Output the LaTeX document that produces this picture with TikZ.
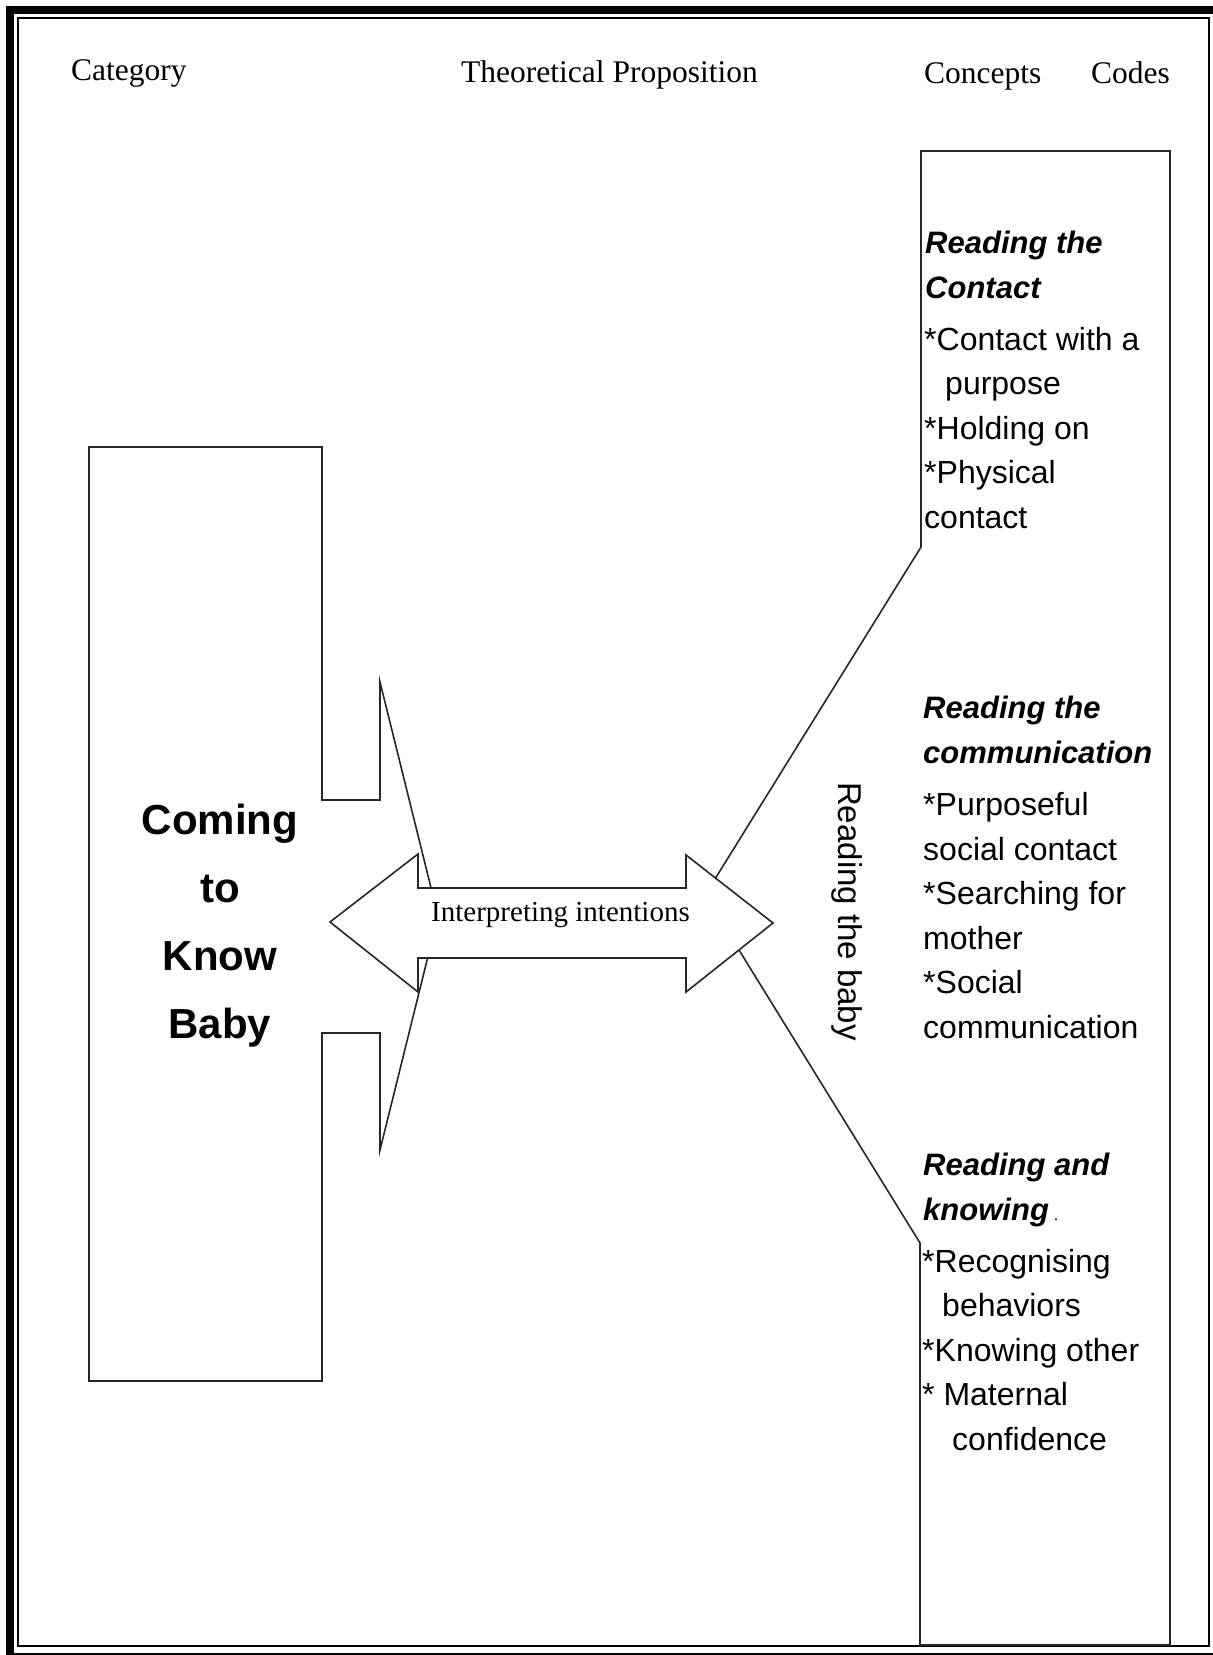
\documentclass[tikz,border=0pt]{standalone}
\usepackage{fontspec}
\setmainfont{Liberation Serif}
\newfontfamily\handfont{Liberation Sans}

\begin{document}
\begin{tikzpicture}[
    x=1pt, y=-1pt,
    outline/.style = {draw=black!85, line width=1.6pt, fill=white},
    header/.style  = {font=\fontsize{31.5}{38}\selectfont, inner sep=0pt, anchor=base west},
    concept/.style = {font=\handfont\bfseries\itshape\fontsize{31}{44.5}\selectfont,
                      align=left, inner sep=0pt, anchor=base west},
    code/.style    = {font=\handfont\fontsize{32}{44.5}\selectfont,
                      align=left, inner sep=0pt, anchor=base west}
]

%% Page and frame
\useasboundingbox (0,0) rectangle (1213,1655);
\draw[line width=8pt]   (10,10) rectangle (1217,1657);
\draw[line width=1.4pt] (18,18) rectangle (1209,1646);

%% Column headers
\node[header]              (cat)  at (71,80)      {Category};
\node[header, anchor=base] (prop) at (609.5,82.5) {Theoretical Proposition};
\node[header]              (con)  at (924,83)     {Concepts};
\node[header]              (cod)  at (1091,83)    {Codes};

%% Category callout
\draw[outline] (89,447) -- (322,447) -- (322,800) -- (380,800) -- (380,682)
    -- (438,916) -- (380,1150) -- (380,1033) -- (322,1033) -- (322,1381)
    -- (89,1381) -- cycle;
% multi-line nodes sit on their last line
\node[font=\handfont\bfseries\fontsize{42}{68}\selectfont, align=center,
      inner sep=0pt, anchor=base] (know) at (220,1038) {Coming\\to\\Know\\Baby};

%% Concepts column callout
\draw[outline] (921,151) -- (1170,151) -- (1170,1645) -- (920,1645)
    -- (920,1243) -- (705,895) -- (921,547) -- cycle;

%% Double arrow
\draw[outline] (330,922) -- (418,854) -- (418,888) -- (686,888) -- (686,855)
    -- (773,923) -- (686,992) -- (686,958) -- (418,958) -- (418,992) -- cycle;
\node[font=\fontsize{29}{34}\selectfont, inner sep=0pt, anchor=base]
    (intent) at (560.5,921.7) {Interpreting intentions};

\node[font=\handfont\fontsize{33}{40}\selectfont, rotate=-90, inner sep=0pt]
    (baby) at (847.5,911.5) {Reading the baby};

%% Concepts and codes
\node[concept] (contact) at (925,298) {Reading the\\Contact};
\node[code]    (contact-codes) at (924,528)
    {*Contact with a\\\hspace*{21pt}purpose\\{*}Holding on\\{*}Physical\\contact};

\node[concept] (comm) at (923,763) {Reading the\\communication};
\node[code]    (comm-codes) at (923,1038)
    {*Purposeful\\social contact\\{*}Searching for\\mother\\{*}Social\\communication};

\node[concept] (knowing) at (923,1220) {Reading and\\knowing\,{\normalfont\fontsize{16}{20}\selectfont .}};
\node[code]    (knowing-codes) at (922,1450)
    {*Recognising\\\hspace*{20pt}behaviors\\{*}Knowing other\\{*} Maternal\\\hspace*{30pt}confidence};

\end{tikzpicture}
\end{document}
